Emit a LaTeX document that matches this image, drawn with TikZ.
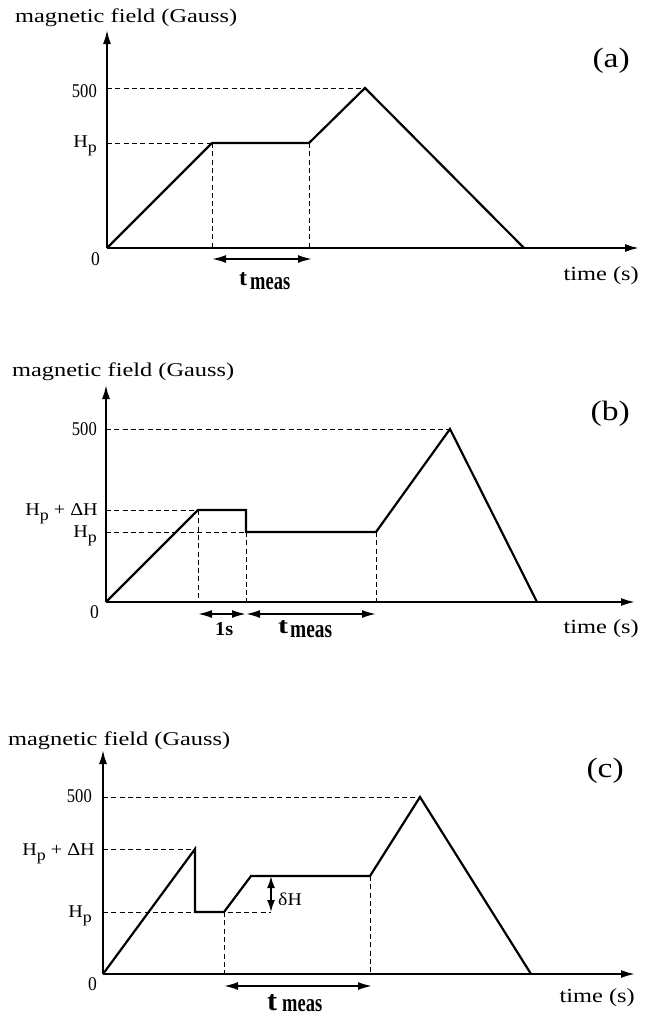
\documentclass[tikz,border=0pt]{standalone}
\usepackage{fontspec}
\setmainfont{Liberation Serif}
\usetikzlibrary{arrows.meta}
\newcommand\sx[2]{\scalebox{#1}[1]{#2}}
\newcommand\Hsub{H\raisebox{-5pt}{\fontsize{16}{16}\selectfont p}}
% t_meas: #1 t width, #2 t height, #3 gap, #4 meas width, #5 drop
\newcommand\tmeas[5]{\resizebox{#1}{#2}{\bfseries t}\hspace{#3}\raisebox{-#5}{\resizebox{#4}{12pt}{\bfseries meas}}}
\begin{document}
\begin{tikzpicture}[x=1pt,y=-1pt,
  axis/.style={line width=2pt,-{Latex[length=14pt,width=8pt]}},
  curve/.style={line width=2.2pt,line join=miter},
  guide/.style={line width=1pt,dash pattern=on 5pt off 3.3pt},
  dim/.style={line width=1.8pt,{Latex[length=14pt,width=8pt]}-{Latex[length=14pt,width=8pt]}},
  ttl/.style={inner sep=0,anchor=base west,font=\fontsize{19.5}{20}\selectfont},
  tlab/.style={inner sep=0,anchor=base east,font=\fontsize{20}{20}\selectfont},
  plab/.style={inner sep=0,anchor=base east,font=\fontsize{28}{28}\selectfont},
  tick/.style={inner sep=0,anchor=base east,font=\fontsize{19.5}{20}\selectfont},
  hlab/.style={inner sep=0,anchor=base east,font=\fontsize{18}{18}\selectfont},
  lbl/.style={inner sep=0,anchor=base west},
]
\useasboundingbox (0,0) rectangle (654,1017);
\fill[white] (0,0) rectangle (654,1017);

% ---------------- panel (a)
\coordinate (aO) at (107,248);
\coordinate (aY) at (107,30);
\coordinate (aX) at (639,248);
\coordinate (a5) at (107,88);
\coordinate (aH) at (107,143);
\coordinate (a1) at (212,143);
\coordinate (a2) at (309,143);
\coordinate (a3) at (365,88);
\coordinate (a4) at (524,248);
\coordinate (a1b) at (212,248);
\coordinate (a2b) at (309,248);
\coordinate (ad1) at (212,259);
\coordinate (ad2) at (312,259);
\draw[guide] (a5) -- (a3);
\draw[guide] (aH) -- (a1);
\draw[guide] (a1) -- (a1b);
\draw[guide] (a2) -- (a2b);
\draw[axis] (aO) -- (aY);
\draw[axis] (aO) -- (aX);
\draw[curve] (aO) -- (a1) -- (a2) -- (a3) -- (a4);
\draw[dim] (ad1) -- (ad2);
\node[ttl] (atitle) at (15,23) {\sx{1.25}{magnetic field (Gauss)}};
\node[plab] (apanel) at (630,67) {\sx{1.2}{(a)}};
\node[tlab] (atime) at (639,280) {\sx{1.22}{time (s)}};
\node[tick] (a500) at (97,97) {\sx{0.85}{500}};
\node[hlab] (aHp) at (97,147) {\sx{1.12}{\Hsub}};
\node[tick] (azero) at (100,265) {\sx{0.9}{0}};
\node[lbl] (atm) at (239,285) {\tmeas{8pt}{13pt}{3pt}{40pt}{4pt}};

% ---------------- panel (b)
\coordinate (bO) at (106,602);
\coordinate (bY) at (106,385);
\coordinate (bX) at (635,602);
\coordinate (b500) at (106,429);
\coordinate (bHd) at (106,510);
\coordinate (bH) at (106,532);
\coordinate (b1) at (198,510);
\coordinate (b2) at (246,510);
\coordinate (b3) at (246,532);
\coordinate (b4) at (376,532);
\coordinate (b5) at (450,429);
\coordinate (b6) at (537,602);
\coordinate (b1b) at (198,602);
\coordinate (b3b) at (246,602);
\coordinate (b4b) at (376,602);
\coordinate (bd1) at (198,614);
\coordinate (bd2) at (246,614);
\coordinate (bd3) at (376,614);
\draw[guide] (b500) -- (b5);
\draw[guide] (bHd) -- (b1);
\draw[guide] (bH) -- (b3);
\draw[guide] (b1) -- (b1b);
\draw[guide] (b3) -- (b3b);
\draw[guide] (b4) -- (b4b);
\draw[axis] (bO) -- (bY);
\draw[axis] (bO) -- (bX);
\draw[curve] (bO) -- (b1) -- (b2) -- (b3) -- (b4) -- (b5) -- (b6);
\draw[dim] (bd1) -- (bd2);
\draw[dim] (bd2) -- (bd3);
\node[ttl] (btitle) at (12,376) {\sx{1.25}{magnetic field (Gauss)}};
\node[plab] (bpanel) at (630,420) {\sx{1.2}{(b)}};
\node[tlab] (btime) at (639,633) {\sx{1.22}{time (s)}};
\node[tick] (b500l) at (97,435) {\sx{0.85}{500}};
\node[hlab] (bHdl) at (98,515) {\sx{1.12}{\Hsub\ + ΔH}};
\node[hlab] (bHl) at (97,537) {\sx{1.12}{\Hsub}};
\node[tick] (bzero) at (99,618) {\sx{0.9}{0}};
\node[lbl] (bone) at (215,635) {\resizebox{18pt}{13pt}{\bfseries 1s}};
\node[lbl] (btm) at (278,633) {\tmeas{10pt}{13pt}{2pt}{42pt}{4pt}};

% ---------------- panel (c)
\coordinate (cO) at (103,974);
\coordinate (cY) at (103,750);
\coordinate (cX) at (635,974);
\coordinate (c500) at (103,797);
\coordinate (cHd) at (103,849);
\coordinate (cH) at (103,912);
\coordinate (c1) at (195,849);
\coordinate (c2) at (195,912);
\coordinate (c3) at (224,912);
\coordinate (c4) at (251,876);
\coordinate (c5) at (370,876);
\coordinate (c6) at (420,797);
\coordinate (c7) at (531,974);
\coordinate (c3b) at (224,974);
\coordinate (c5b) at (370,974);
\coordinate (cdh1) at (271,876);
\coordinate (cdh2) at (271,912);
\coordinate (cd1) at (224,986);
\coordinate (cd2) at (372,986);
\draw[guide] (c500) -- (c6);
\draw[guide] (cHd) -- (c1);
\draw[guide] (cH) -- (cdh2);
\draw[guide] (c3) -- (c3b);
\draw[guide] (c5) -- (c5b);
\draw[axis] (cO) -- (cY);
\draw[axis] (cO) -- (cX);
\draw[curve] (cO) -- (c1) -- (c2) -- (c3) -- (c4) -- (c5) -- (c6) -- (c7);
\draw[line width=1.8pt,{Latex[length=12pt,width=8pt]}-{Latex[length=12pt,width=8pt]}] (cdh1) -- (cdh2);
\draw[dim] (cd1) -- (cd2);
\node[ttl] (ctitle) at (8,745) {\sx{1.25}{magnetic field (Gauss)}};
\node[plab] (cpanel) at (624,777) {\sx{1.2}{(c)}};
\node[tlab] (ctime) at (635,1002) {\sx{1.22}{time (s)}};
\node[tick] (c500l) at (92,802) {\sx{0.85}{500}};
\node[hlab] (cHdl) at (95,855) {\sx{1.12}{\Hsub\ + ΔH}};
\node[hlab] (cHl) at (92,917) {\sx{1.12}{\Hsub}};
\node[tick] (czero) at (97,990) {\sx{0.9}{0}};
\node[lbl,font=\fontsize{18}{18}\selectfont] (cdH) at (278,905) {\sx{1.1}{δH}};
\node[lbl] (ctm) at (267,1010) {\tmeas{10pt}{16pt}{5pt}{40pt}{1.5pt}};
\end{tikzpicture}
\end{document}
